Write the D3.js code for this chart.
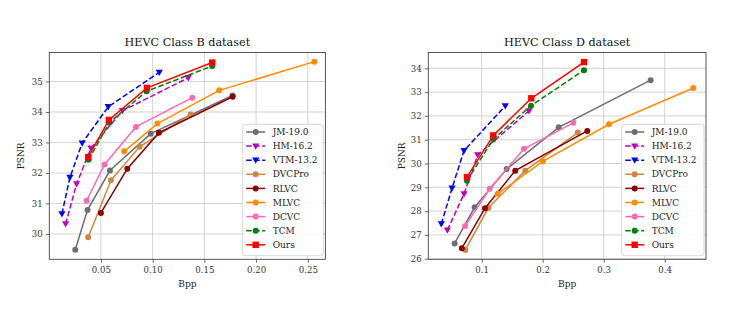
<!DOCTYPE html>
<html>
<head>
<meta charset="utf-8">
<script src="https://cdn.jsdelivr.net/npm/d3@7"></script>
<style>
  body { margin: 0; background: #fff; }
  svg text { font-family: "DejaVu Serif", serif; }
</style>
</head>
<body>
<div id="chart"></div>
<script>
// legend order / names
var methods = ["JM-19.0", "HM-16.2", "VTM-13.2", "DVCPro", "RLVC", "MLVC", "DCVC", "TCM", "Ours"];
var colors = ["#6e6e6e", "#c000c0", "#0000ff", "#cd853f", "#8b0000", "#ff8c00", "#ff69b4", "#008000", "#ff0000"];
var markers = ["circle", "tri", "tri", "circle", "circle", "circle", "circle", "circle", "square"];
var dashed = [false, true, true, false, false, false, false, true, false];

// HEVC Class B, [bpp, psnr]
var B_JM = [[0.0252, 29.48], [0.0371, 30.79], [0.0587, 32.08], [0.0982, 33.29], [0.1772, 34.54]];
var B_HM = [[0.0159, 30.33], [0.0265, 31.64], [0.0403, 32.81], [0.0708, 34.04], [0.1344, 35.12]];
var B_VTM = [[0.0123, 30.66], [0.0200, 31.85], [0.0319, 32.98], [0.0571, 34.17], [0.1064, 35.30]];
var B_DVCPro = [[0.0377, 29.89], [0.0597, 31.76], [0.0874, 32.86], [0.1367, 33.92]];
var B_RLVC = [[0.0500, 30.69], [0.0755, 32.14], [0.1061, 33.32], [0.1773, 34.50]];
var B_MLVC = [[0.0725, 32.71], [0.1046, 33.62], [0.1644, 34.71], [0.2563, 35.65]];
var B_DCVC = [[0.0361, 31.09], [0.0535, 32.28], [0.0838, 33.51], [0.1383, 34.47]];
var B_TCM = [[0.0381, 32.43], [0.0581, 33.65], [0.0942, 34.68], [0.1576, 35.51]];
var B_Ours = [[0.0377, 32.52], [0.0577, 33.74], [0.0945, 34.79], [0.1576, 35.62]];

// HEVC Class D, [bpp, psnr]
var D_JM = [[0.0556, 26.64], [0.0885, 28.16], [0.1410, 29.77], [0.2262, 31.52], [0.3770, 33.50]];
var D_HM = [[0.0437, 27.20], [0.0710, 28.72], [0.0934, 30.36], [0.1775, 32.21]];
var D_VTM = [[0.0338, 27.46], [0.0513, 28.96], [0.0710, 30.54], [0.1387, 32.42]];
var D_DVCPro = [[0.0731, 26.37], [0.1110, 28.14], [0.1715, 29.70], [0.2575, 31.30]];
var D_RLVC = [[0.0675, 26.44], [0.1054, 28.12], [0.1550, 29.70], [0.2731, 31.37]];
var D_MLVC = [[0.1262, 28.73], [0.2000, 30.09], [0.3087, 31.65], [0.4469, 33.17]];
var D_DCVC = [[0.0728, 27.37], [0.1131, 28.94], [0.1693, 30.62], [0.2502, 31.71]];
var D_TCM = [[0.0759, 29.28], [0.1190, 31.02], [0.1808, 32.43], [0.2677, 33.92]];
var D_Ours = [[0.0759, 29.43], [0.1190, 31.18], [0.1813, 32.74], [0.2677, 34.26]];

var xTicksB = [0.05, 0.10, 0.15, 0.20, 0.25];
var yTicksB = [30, 31, 32, 33, 34, 35];
var xTicksD = [0.1, 0.2, 0.3, 0.4];
var yTicksD = [26, 27, 28, 29, 30, 31, 32, 33, 34];

var W = 747, H = 309;
var svg = d3.select("#chart").append("svg")
  .attr("width", W).attr("height", H);

function drawPanel(opt) {
  var x = d3.scaleLinear().domain(opt.xDomain).range([opt.left, opt.right]);
  var y = d3.scaleLinear().domain(opt.yDomain).range([opt.bottom, opt.top]);
  var g = svg.append("g");

  // grid
  g.selectAll(".gx").data(opt.xTicks).enter().append("line")
    .attr("x1", d => x(d)).attr("x2", d => x(d))
    .attr("y1", opt.top).attr("y2", opt.bottom)
    .attr("stroke", "#d3d3d3").attr("stroke-width", 1);
  g.selectAll(".gy").data(opt.yTicks).enter().append("line")
    .attr("y1", d => y(d)).attr("y2", d => y(d))
    .attr("x1", opt.left).attr("x2", opt.right)
    .attr("stroke", "#d3d3d3").attr("stroke-width", 1);

  // axes
  var xAxis = d3.axisBottom(x).tickValues(opt.xTicks).tickFormat(opt.xFmt).tickSize(3.5).tickSizeOuter(0);
  var yAxis = d3.axisLeft(y).tickValues(opt.yTicks).tickFormat(d3.format("d")).tickSize(3.5).tickSizeOuter(0);
  var ax = g.append("g").attr("transform", "translate(0," + opt.bottom + ")").call(xAxis);
  var ay = g.append("g").attr("transform", "translate(" + opt.left + ",0)").call(yAxis);
  [ax, ay].forEach(function(a) {
    a.select(".domain").remove();
    a.selectAll("line").attr("stroke", "#444").attr("stroke-width", 0.8);
    a.selectAll("text").attr("fill", "#333").style("font-size", "8.6px")
      .style("font-family", "DejaVu Serif, serif");
  });
  ax.selectAll("text").attr("dy", "0.85em");

  // frame
  g.append("rect")
    .attr("x", opt.left).attr("y", opt.top)
    .attr("width", opt.right - opt.left).attr("height", opt.bottom - opt.top)
    .attr("fill", "none").attr("stroke", "#444").attr("stroke-width", 0.9);

  // title and labels
  g.append("text").attr("x", (opt.left + opt.right) / 2).attr("y", 46)
    .attr("text-anchor", "middle").style("font-size", "11.2px").attr("fill", "#111")
    .text(opt.title);
  g.append("text").attr("x", (opt.left + opt.right) / 2).attr("y", 287)
    .attr("text-anchor", "middle").style("font-size", "9px").attr("fill", "#222")
    .text("Bpp");
  g.append("text")
    .attr("transform", "translate(" + opt.ylabX + "," + ((opt.top + opt.bottom) / 2) + ") rotate(-90)")
    .attr("text-anchor", "middle").style("font-size", "9px").attr("fill", "#222")
    .text("PSNR");

  var line = d3.line().x(d => x(d[0])).y(d => y(d[1]));
  var plot = g.append("g");
  opt.series.forEach(function(s, i) {
    plot.append("path").datum(s)
      .attr("d", line)
      .attr("fill", "none")
      .attr("stroke", colors[i])
      .attr("stroke-width", 1.5)
      .attr("stroke-dasharray", dashed[i] ? "5.5,2.5" : null);
    s.forEach(function(p) {
      drawMarker(plot, x(p[0]), y(p[1]), markers[i], colors[i]);
    });
  });

  // legend
  var lg = g.append("g");
  lg.append("rect")
    .attr("x", opt.legX).attr("y", 124.3)
    .attr("width", opt.legW).attr("height", 131.4)
    .attr("rx", 2.5)
    .attr("fill", "#fff").attr("fill-opacity", 0.85)
    .attr("stroke", "#cccccc").attr("stroke-width", 0.8);
  methods.forEach(function(m, i) {
    var yy = 132 + i * 14.1;
    lg.append("line")
      .attr("x1", opt.legX + 3.5).attr("x2", opt.legX + 22.5)
      .attr("y1", yy).attr("y2", yy)
      .attr("stroke", colors[i]).attr("stroke-width", 1.5)
      .attr("stroke-dasharray", dashed[i] ? "5.5,2.5" : null);
    drawMarker(lg, opt.legX + 13, yy, markers[i], colors[i]);
    lg.append("text").attr("x", opt.legX + 30).attr("y", yy)
      .attr("dy", "0.35em").style("font-size", "9px").attr("fill", "#222")
      .text(m);
  });
}

function drawMarker(g, cx, cy, type, c) {
  if (type === "circle") {
    g.append("circle").attr("cx", cx).attr("cy", cy).attr("r", 3).attr("fill", c);
  } else if (type === "square") {
    g.append("rect").attr("x", cx - 3.2).attr("y", cy - 3.2)
      .attr("width", 6.4).attr("height", 6.4).attr("fill", c);
  } else {
    var s = 3.6;
    g.append("path")
      .attr("d", "M" + (cx - s) + "," + (cy - s * 0.75) + "L" + (cx + s) + "," + (cy - s * 0.75) + "L" + cx + "," + (cy + s) + "Z")
      .attr("fill", c);
  }
}

drawPanel({
  title: "HEVC Class B dataset",
  xDomain: [0.0001, 0.267], yDomain: [29.17, 35.95],
  left: 49.3, right: 325.4, top: 52.5, bottom: 259.3,
  xTicks: xTicksB, yTicks: yTicksB, xFmt: d3.format(".2f"),
  ylabX: 24, legX: 242.7, legW: 80.6,
  series: [B_JM, B_HM, B_VTM, B_DVCPro, B_RLVC, B_MLVC, B_DCVC, B_TCM, B_Ours]
});

drawPanel({
  title: "HEVC Class D dataset",
  xDomain: [0.01246, 0.4677], yDomain: [25.975, 34.664],
  left: 428.3, right: 706, top: 52.5, bottom: 259.3,
  xTicks: xTicksD, yTicks: yTicksD, xFmt: d3.format(".1f"),
  ylabX: 405, legX: 621.7, legW: 82.3,
  series: [D_JM, D_HM, D_VTM, D_DVCPro, D_RLVC, D_MLVC, D_DCVC, D_TCM, D_Ours]
});
</script>
</body>
</html>
